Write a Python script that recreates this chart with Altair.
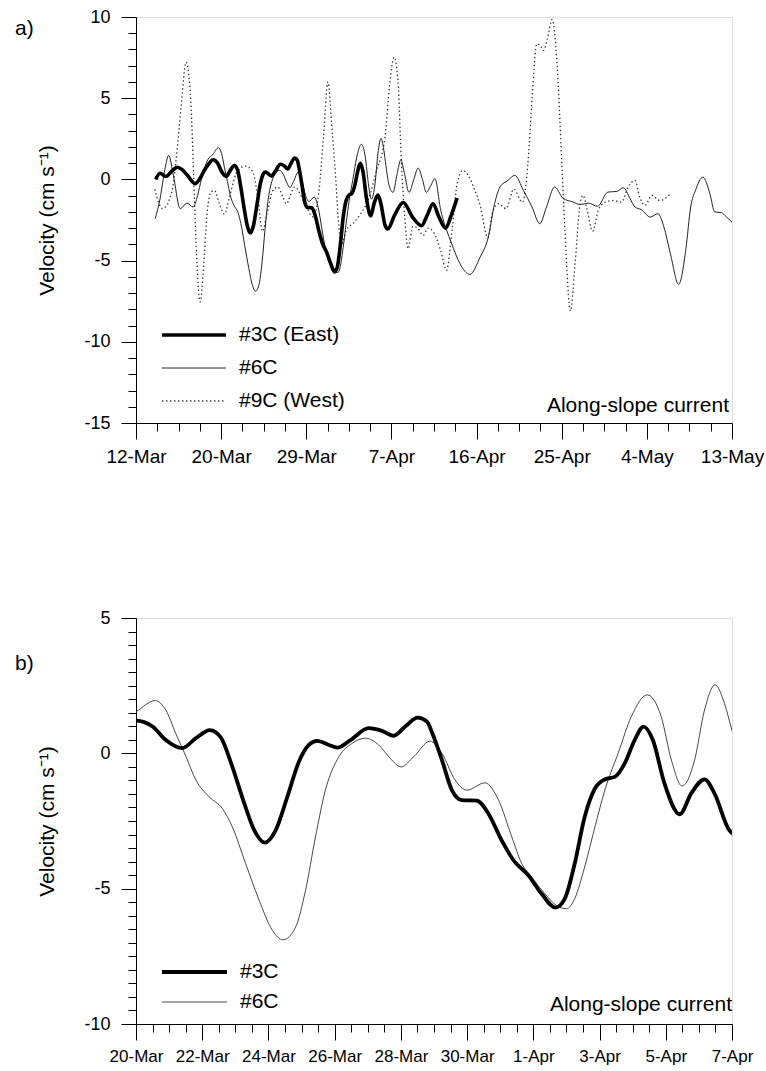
import json
import altair as alt
import pandas as pd

# ---------------- data (t = days after 12-Mar 00:00, v = velocity cm/s) ----------------
SERIES_3C = [(2.05, 0.0), (2.5, 0.38), (3.1, 0.18), (3.7, 0.5), (4.3, 0.75), (4.8, 0.6), (5.35, 0.25),
             (6.15, -0.26), (6.7, 0.1), (7.1, 0.55), (7.6, 0.98), (8.0, 1.21), (8.5, 0.99), (8.9, 0.49),
             (9.39, 0.19), (9.81, 0.56), (10.23, 0.86), (10.56, 0.59), (10.91, -0.5), (11.27, -1.85),
             (11.57, -2.84), (11.89, -3.3), (12.22, -2.84), (12.57, -1.61), (12.92, -0.31), (13.22, 0.31),
             (13.47, 0.46), (13.83, 0.31), (14.08, 0.21), (14.48, 0.49), (15.03, 0.93), (15.43, 0.83),
             (15.78, 0.65), (16.13, 0.99), (16.51, 1.32), (16.79, 1.17), (16.94, 0.77), (17.24, -0.25),
             (17.54, -1.36), (17.84, -1.73), (18.29, -1.75), (18.64, -2.22), (19.04, -3.21), (19.4, -3.95),
             (19.85, -4.51), (20.25, -5.19), (20.67, -5.7), (20.95, -5.37), (21.25, -4.07), (21.55, -2.35),
             (21.86, -1.3), (22.16, -0.96), (22.46, -0.87), (22.76, -0.37), (23.06, 0.49), (23.33, 0.99),
             (23.61, 0.49), (23.96, -1.11), (24.42, -2.25), (24.77, -1.48), (25.17, -0.96), (25.47, -1.48),
             (25.92, -2.84), (26.2, -3.05), (26.9, -2.2), (27.8, -1.42), (28.8, -2.35), (29.7, -2.85),
             (30.3, -2.2), (30.9, -1.5), (31.5, -2.3), (32.2, -3.0), (32.8, -2.2), (33.4, -1.15)]

SERIES_6C = [(2.0, -2.42), (2.5, -1.2), (3.0, 0.6), (3.4, 1.48), (3.9, 0.2), (4.6, -1.8), (5.3, -1.46),
             (5.95, -1.7), (6.4, -1.0), (6.8, 0.0), (7.46, 1.2), (8.0, 1.54), (8.58, 1.95), (8.9, 1.6),
             (9.2, 0.74), (9.51, -0.12), (9.81, -0.99), (10.21, -1.61), (10.61, -2.04), (10.91, -2.72),
             (11.31, -4.07), (11.72, -5.43), (12.12, -6.54), (12.44, -6.89), (12.82, -6.42), (13.12, -5.06),
             (13.42, -3.09), (13.72, -1.36), (14.13, -0.12), (14.53, 0.37), (14.93, 0.56), (15.33, 0.31),
             (15.68, -0.19), (16.01, -0.5), (16.39, -0.12), (16.88, 0.45), (17.24, 0.0), (17.64, -0.99),
             (17.99, -1.36), (18.54, -1.09), (18.95, -1.73), (19.35, -3.09), (19.65, -4.07), (19.95, -4.57),
             (20.35, -5.19), (20.7, -5.62), (21.0, -5.74), (21.25, -5.37), (21.55, -4.2), (21.86, -2.72),
             (22.16, -1.36), (22.56, 0.0), (22.96, 1.36), (23.44, 2.16), (23.86, 1.36), (24.17, -0.25),
             (24.49, -1.21), (24.87, -0.25), (25.17, 1.6), (25.49, 2.53), (25.77, 1.85), (26.0, 0.85),
             (26.3, -0.3), (26.74, -0.8), (27.15, 0.3), (27.55, 1.2), (27.95, 0.3), (28.4, -0.8),
             (28.9, 0.0), (29.35, 0.7), (29.8, 0.0), (30.2, -0.8), (30.65, -0.4), (31.1, 0.05),
             (31.7, -1.9), (32.3, -3.1), (32.8, -3.9), (33.7, -5.19), (34.73, -5.85), (35.8, -4.78),
             (36.65, -3.55), (37.3, -1.5), (37.86, -0.47), (38.7, -0.06), (39.4, 0.25), (40.3, -0.68),
             (41.2, -1.7), (42.0, -2.73), (42.7, -1.7), (43.55, -0.47), (44.4, -1.15), (45.5, -1.4),
             (46.2, -1.55), (47.06, -1.46), (48.0, -1.66), (49.1, -0.78), (50.0, -0.74), (50.7, -0.51),
             (51.4, -1.19), (51.9, -1.7), (52.6, -1.87), (53.5, -2.32), (54.3, -2.11), (54.9, -2.9),
             (55.6, -4.6), (56.45, -6.46), (57.2, -4.3), (57.7, -1.7), (58.2, -0.68), (58.98, 0.14),
             (59.7, -0.88), (60.2, -2.0), (60.9, -2.05), (61.4, -2.3), (62.0, -2.63)]

SERIES_9C = [(1.95, -0.6), (2.4, -1.5), (2.78, -1.8), (3.2, -1.6), (3.5, -1.2), (3.9, -0.2), (4.17, 1.17),
             (4.69, 4.45), (5.21, 7.22), (5.66, 5.27), (6.0, 0.14), (6.25, -3.96), (6.67, -7.55),
             (7.01, -5.6), (7.36, -2.32), (7.81, -0.78), (8.16, -0.68), (8.68, -1.5), (9.2, -2.15),
             (9.72, -1.09), (10.42, 0.35), (11.39, 0.82), (12.15, 0.45), (12.67, -1.09), (13.15, -3.2),
             (13.6, -2.2), (14.24, -0.68), (14.76, -0.47), (15.28, -1.09), (15.63, -1.5), (16.5, -0.47),
             (17.5, -1.4), (18.4, -2.3), (19.0, -0.9), (19.5, 2.6), (19.97, 6.0), (20.4, 3.0), (20.77, 0.1),
             (21.1, -2.9), (21.4, -3.96), (21.9, -3.1), (22.6, -2.7), (23.27, -2.2), (24.2, -1.2),
             (25.0, 0.5), (25.9, 2.6), (26.4, 5.9), (26.85, 7.53), (27.26, 6.0), (27.6, 1.2),
             (27.96, -2.32), (28.3, -4.27), (28.8, -2.9), (29.3, -3.0), (29.87, -3.45), (30.4, -3.0),
             (31.0, -3.3), (31.7, -4.4), (32.3, -5.6), (32.9, -3.0), (33.4, -0.3), (34.0, 0.55),
             (34.6, 0.2), (35.2, -0.6), (35.8, -1.6), (36.6, -3.6), (37.1, -2.0), (37.7, -1.5),
             (38.5, -1.8), (39.3, -0.6), (40.2, -1.4), (40.8, 1.2), (41.2, 5.0), (41.7, 8.35), (42.1, 8.2),
             (42.4, 7.94), (42.8, 8.66), (43.3, 9.85), (43.76, 7.5), (44.3, 1.0), (44.6, -2.9), (45.2, -8.1),
             (45.67, -5.2), (46.2, -1.5), (46.5, -0.98), (46.9, -1.8), (47.5, -3.2), (48.1, -1.9),
             (48.8, -1.4), (49.7, -1.3), (50.5, -1.4), (51.2, -0.47), (51.9, -0.06), (52.4, -1.09),
             (52.96, -1.6), (53.66, -0.98), (54.5, -1.3), (55.5, -0.94)]

A_XLABELS = ["12-Mar", "20-Mar", "29-Mar", "7-Apr", "16-Apr", "25-Apr", "4-May", "13-May"]
B_XLABELS = ["20-Mar", "22-Mar", "24-Mar", "26-Mar", "28-Mar", "30-Mar", "1-Apr", "3-Apr", "5-Apr", "7-Apr"]
A_XDOMAIN = [0, 62]
B_XDOMAIN = [8, 26]
A_YDOMAIN = [-15, 10]
B_YDOMAIN = [-10, 5]
A_LEGEND = ["#3C (East)", "#6C", "#9C (West)"]
B_LEGEND = ["#3C", "#6C"]
NOTE = "Along-slope current"
YTITLE = "Velocity  (cm s\u207b\u00b9)"

FONT = "Liberation Sans"
W, H = 596, 406


def frame(series):
    return pd.DataFrame(series, columns=["t", "v"])


def x_axis(domain, labels, minor_per, size):
    start, end = domain
    n_major = len(labels) - 1
    step = (end - start) / n_major
    mstep = step / minor_per
    vals = [start + i * mstep for i in range(n_major * minor_per + 1)]
    idx = f"round((datum.value - {start}) / {step})"
    test = f"abs((datum.value - {start}) / {step} - {idx}) < 0.001"
    return alt.Axis(values=vals, title=None, grid=False, domainColor="black", domainWidth=1,
                    tickColor="black", tickWidth=1,
                    tickSize={"condition": {"test": test, "value": 16}, "value": 8},
                    labelExpr=f"{test} ? {json.dumps(labels)}[{idx}] : ''",
                    labelFont=FONT, labelFontSize=size, labelColor="black", labelPadding=8,
                    labelOverlap=False, labelFlush=False)


def y_axis(domain, minor, major):
    lo, hi = domain
    n = int(round((hi - lo) / minor))
    vals = [lo + i * minor for i in range(n + 1)]
    test = f"abs(datum.value / {major} - round(datum.value / {major})) < 0.001"
    return alt.Axis(values=vals, grid=False, domainColor="black", domainWidth=1,
                    tickColor="black", tickWidth=1,
                    tickSize={"condition": {"test": test, "value": 15}, "value": 8},
                    labelExpr=f"{test} ? '' + datum.value : ''",
                    labelFont=FONT, labelFontSize=18, labelColor="black", labelPadding=11,
                    labelOverlap=False,
                    title=YTITLE, titleFont=FONT, titleFontSize=21, titleFontWeight="normal",
                    titleColor="black", titleAngle=270, titleAlign="center", titleBaseline="middle",
                    titleX=-89, titleY=H / 2)


def line(series, xs, ys, xax, yax, **mark):
    return alt.Chart(frame(series)).mark_line(interpolate="monotone", clip=True, **mark).encode(
        x=alt.X("t:Q", scale=xs, axis=xax),
        y=alt.Y("v:Q", scale=ys, axis=yax),
    )


def text(s, x, y, size, align="left", baseline="middle"):
    return alt.Chart(pd.DataFrame({"s": [s]})).mark_text(
        font=FONT, fontSize=size, align=align, baseline=baseline, color="black"
    ).encode(x=alt.value(x), y=alt.value(y), text="s:N")


def key(x1, x2, y, **mark):
    return alt.Chart(pd.DataFrame({"k": [0]})).mark_rule(**mark).encode(
        x=alt.value(x1), x2=alt.value(x2), y=alt.value(y))


THICK = dict(color="black", strokeWidth=3.6)
THIN = dict(color="#222222", strokeWidth=1.0)
DOTS = dict(color="#333333", strokeWidth=1.3, strokeDash=[1.4, 2.6])

# ---------------- panel a ----------------
xs_a = alt.Scale(domain=A_XDOMAIN, nice=False, zero=False)
ys_a = alt.Scale(domain=A_YDOMAIN, nice=False, zero=False)
xa = x_axis(A_XDOMAIN, A_XLABELS, 4, 19)
ya = y_axis(A_YDOMAIN, 1, 5)

panel_a = alt.layer(
    line(SERIES_9C, xs_a, ys_a, xa, ya, **DOTS),
    line(SERIES_6C, xs_a, ys_a, xa, ya, **THIN),
    line(SERIES_3C, xs_a, ys_a, xa, ya, **THICK),
    key(26, 90, 318, **THICK), text(A_LEGEND[0], 103, 318, 21),
    key(26, 90, 351, **THIN), text(A_LEGEND[1], 103, 351, 21),
    key(26, 90, 384, **DOTS), text(A_LEGEND[2], 103, 384, 21),
    text(NOTE, 593, 395, 21, align="right", baseline="alphabetic"),
    text("a)", -121, 12, 21),
).properties(width=W, height=H)

# ---------------- panel b ----------------
xs_b = alt.Scale(domain=B_XDOMAIN, nice=False, zero=False)
ys_b = alt.Scale(domain=B_YDOMAIN, nice=False, zero=False)
xb = x_axis(B_XDOMAIN, B_XLABELS, 4, 17)
yb = y_axis(B_YDOMAIN, 0.5, 5)

THIN_B = dict(color="#333333", strokeWidth=0.9)
THICK_B = dict(color="black", strokeWidth=3.8)

panel_b = alt.layer(
    line(SERIES_6C, xs_b, ys_b, xb, yb, **THIN_B),
    line(SERIES_3C, xs_b, ys_b, xb, yb, **THICK_B),
    key(26, 91, 354, **THICK_B), text(B_LEGEND[0], 104, 354, 21),
    key(26, 91, 384, **THIN_B), text(B_LEGEND[1], 104, 384, 21),
    text(NOTE, 596, 393, 21, align="right", baseline="alphabetic"),
    text("b)", -121, 46, 21),
).properties(width=W, height=H)

chart = alt.vconcat(panel_a, panel_b, spacing=141).properties(
    padding={"left": 14, "top": 7, "right": 0, "bottom": 5}
).configure_view(stroke=None).configure(font=FONT, background="white")

chart.save("out.html", embed_options={"renderer": "svg", "actions": False})
